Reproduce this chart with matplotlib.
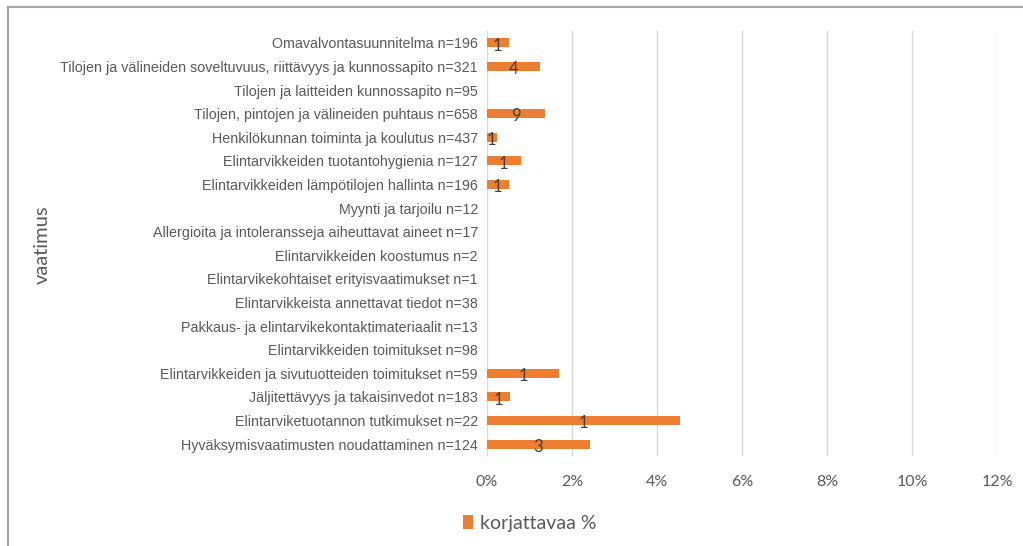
import matplotlib
matplotlib.use("Agg")
import matplotlib.pyplot as plt
from matplotlib import font_manager
from matplotlib.patches import Patch
from matplotlib.lines import Line2D

categories = [
    "Omavalvontasuunnitelma n=196",
    "Tilojen ja välineiden soveltuvuus, riittävyys ja kunnossapito n=321",
    "Tilojen ja laitteiden kunnossapito n=95",
    "Tilojen, pintojen ja välineiden puhtaus n=658",
    "Henkilökunnan toiminta ja koulutus n=437",
    "Elintarvikkeiden tuotantohygienia n=127",
    "Elintarvikkeiden lämpötilojen hallinta n=196",
    "Myynti ja tarjoilu n=12",
    "Allergioita ja intoleransseja aiheuttavat aineet n=17",
    "Elintarvikkeiden koostumus n=2",
    "Elintarvikekohtaiset erityisvaatimukset n=1",
    "Elintarvikkeista annettavat tiedot n=38",
    "Pakkaus- ja elintarvikekontaktimateriaalit n=13",
    "Elintarvikkeiden toimitukset n=98",
    "Elintarvikkeiden ja sivutuotteiden toimitukset n=59",
    "Jäljitettävyys ja takaisinvedot n=183",
    "Elintarviketuotannon tutkimukset n=22",
    "Hyväksymisvaatimusten noudattaminen n=124",
]
korjattavaa_pct = [0.51, 1.25, 0.0, 1.37, 0.23, 0.79, 0.51, 0.0, 0.0, 0.0,
                   0.0, 0.0, 0.0, 0.0, 1.69, 0.55, 4.55, 2.42]
korjattavaa_lkm = [1, 4, 0, 9, 1, 1, 1, 0, 0, 0, 0, 0, 0, 0, 1, 1, 1, 3]
x_ticks = [0, 2, 4, 6, 8, 10, 12]
x_tick_labels = ["0%", "2%", "4%", "6%", "8%", "10%", "12%"]
series_name = "korjattavaa %"
axis_title = "vaatimus"

installed = {f.name for f in font_manager.fontManager.ttflist}
narrow = "Liberation Sans" if "Liberation Sans" in installed else "DejaVu Sans"
body = "Lato" if "Lato" in installed else "DejaVu Sans"

ORANGE = "#ED7D31"
GRAY = "#595959"
GRID = "#D9D9D9"

W, H = 1023, 546
fig = plt.figure(figsize=(W / 100, H / 100), dpi=100)
fig.patch.set_facecolor("white")

# plot area in pixel coordinates
left, right = 487, 997
top, bottom = 31, 456
ax = fig.add_axes([left / W, 1 - bottom / H, (right - left) / W, (bottom - top) / H])

n = len(categories)
ypos = list(range(n))
ax.barh(ypos, korjattavaa_pct, height=0.38, color=ORANGE, zorder=3)
ax.set_ylim(n - 0.5, -0.5)
ax.set_xlim(0, 12)

for y, v, c in zip(ypos, korjattavaa_pct, korjattavaa_lkm):
    if c > 0:
        ax.text(v / 2, y + 0.12, str(c), ha="center", va="center",
                fontsize=12, color="#404040", family=body, zorder=4)

ax.set_xticks(x_ticks)
ax.set_xticklabels(x_tick_labels, family=body, fontsize=11.5, color=GRAY)
ax.set_yticks(ypos)
ax.set_yticklabels(categories, family=narrow, fontsize=10.3, color=GRAY)
ax.tick_params(axis="both", length=0)
ax.tick_params(axis="x", pad=14)
ax.tick_params(axis="y", pad=6.5)
ax.grid(axis="x", color=GRID, linewidth=1, zorder=0)
for s in ax.spines.values():
    s.set_visible(False)

fig.text(42 / W, 1 - 245 / H, axis_title, rotation=90, ha="center", va="center",
         fontsize=14.5, color=GRAY, family=body)

fig.legend(handles=[Patch(facecolor=ORANGE, edgecolor="none", label=series_name)],
           loc="center", bbox_to_anchor=(530 / W, 1 - 523 / H), frameon=False,
           handlelength=0.5, handleheight=0.7, handletextpad=0.35,
           prop={"family": body, "size": 14}, labelcolor=GRAY)

# outer chart frame (top and left edges)
fig.add_artist(Line2D([8 / W, 1.0], [1 - 7 / H, 1 - 7 / H], color="#A6A6A6",
                      linewidth=1.5, transform=fig.transFigure))
fig.add_artist(Line2D([8 / W, 8 / W], [0, 1 - 7 / H], color="#A6A6A6",
                      linewidth=1.5, transform=fig.transFigure))

fig.savefig("out.png", dpi=100, facecolor="white")
